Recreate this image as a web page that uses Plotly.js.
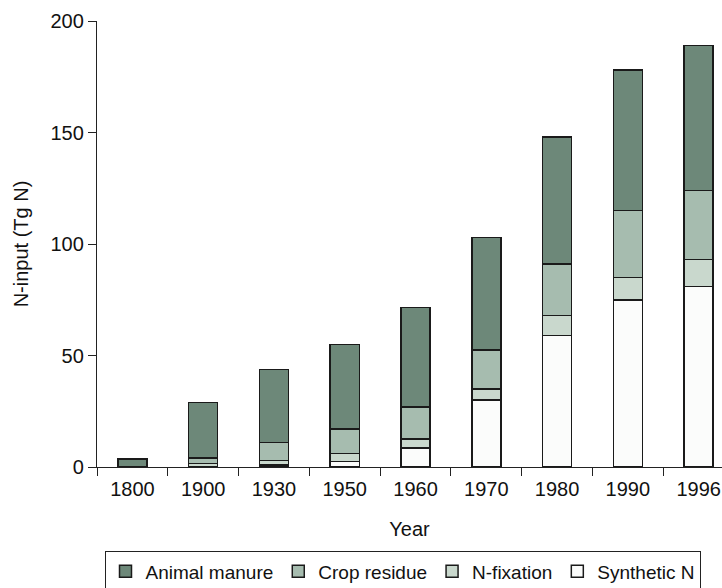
<!DOCTYPE html>
<html>
<head>
<meta charset="utf-8">
<script src="https://cdn.plot.ly/plotly-3.0.1.min.js"></script>
<style>html,body{margin:0;padding:0;background:#fff;}#chart{width:722px;height:588px;}</style>
</head>
<body>
<div id="chart"></div>
<script>
// Categories (years)
const years = ["1800", "1900", "1930", "1950", "1960", "1970", "1980", "1990", "1996"];
// Series values (Tg N), stacked bottom to top
const syntheticN  = [0,   0,    1,    2.5,  8.5,  30,   59, 75, 81];
const nFixation   = [0,   1.5,  2,    3.5,  4,    5,    9,  10, 12];
const cropResidue = [0,   2.5,  8,    11,   14.5, 17.5, 23, 30, 31];
const animalManure= [3.5, 25,   32.7, 38,   44.5, 50.5, 57, 63, 65];
const yTicks = [0, 50, 100, 150, 200];

const FONT = "Liberation Sans, Arial, Helvetica, sans-serif";
const outline = {color: "#1a1a1a", width: 1.5};

function bar(name, vals, color) {
  return {
    type: "bar", name: name, x: years, y: vals,
    width: 0.41,
    marker: {color: color, line: outline},
    hoverinfo: "x+y+name"
  };
}

const data = [
  bar("Synthetic N", syntheticN, "#fbfcfb"),
  bar("N-fixation", nFixation, "#c9d8cd"),
  bar("Crop residue", cropResidue, "#a6bcaf"),
  bar("Animal manure", animalManure, "#6d8879")
];

const layout = {
  width: 722, height: 588,
  margin: {l: 97, r: 0, t: 21, b: 120.5, pad: 0, autoexpand: false},
  paper_bgcolor: "#fff", plot_bgcolor: "#fff",
  barmode: "stack",
  font: {family: FONT, size: 20, color: "#111"},
  xaxis: {
    type: "category",
    range: [-0.5, 8.33],
    tickson: "boundaries",
    ticks: "outside", ticklen: 8, tickwidth: 1, tickcolor: "#222",
    showline: true, linecolor: "#222", linewidth: 1.2,
    showgrid: false, zeroline: false,
    tickfont: {size: 20},
    ticklabelstandoff: 4,
    title: {text: "Year", font: {size: 20}, standoff: 22},
    automargin: false
  },
  yaxis: {
    range: [0, 200],
    tickvals: yTicks,
    ticks: "outside", ticklen: 8, tickwidth: 1, tickcolor: "#222",
    showline: true, linecolor: "#222", linewidth: 1.2,
    showgrid: false, zeroline: false,
    tickfont: {size: 20},
    title: {text: "N-input (Tg N)", font: {size: 20}, standoff: 16},
    automargin: false
  },
  showlegend: true,
  legend: {
    orientation: "h",
    traceorder: "reversed",
    x: 0.012, xanchor: "left",
    y: -0.1892, yanchor: "top",
    bordercolor: "#222", borderwidth: 1,
    bgcolor: "#fff",
    font: {size: 19}
  }
};

Plotly.newPlot("chart", data, layout, {displayModeBar: false, staticPlot: true});
</script>
</body>
</html>
